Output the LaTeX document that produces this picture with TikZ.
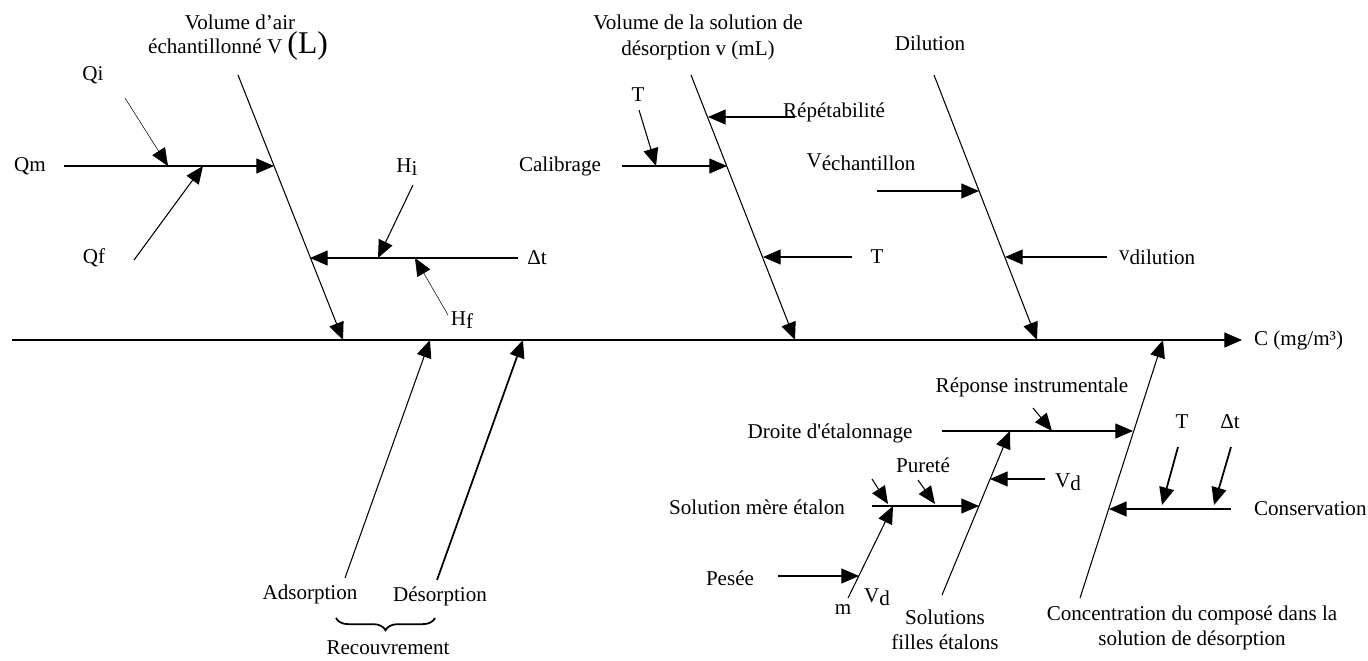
\documentclass[tikz,border=0pt]{standalone}
\usepackage{fontspec}
\setmainfont{Liberation Serif}
\usetikzlibrary{arrows.meta,decorations.pathreplacing}
\tikzset{
  % ---- texts -----------------------------------------------------
  lbl/.style    = {font=\fontsize{12}{14.5}\selectfont, inner sep=1pt,
                   align=center},
  % ---- bones and arrows ------------------------------------------
  tip/.style    = {-{Triangle[length=10pt, width=8.5pt]}},
  spine/.style  = {line width=.6pt, tip},
  bone/.style   = {line width=.6pt, tip},
  twig/.style   = {line width=.3pt, tip},
  heavy/.style  = {line width=1pt, tip},
  brk/.style    = {line width=1pt, decorate,
                   decoration={brace, amplitude=7pt, mirror}},
}
\newcommand{\lowr}[1]{\raisebox{-0.3ex}{#1}}

\begin{document}
\begin{tikzpicture}[x=0.02cm, y=-0.02cm]
  \useasboundingbox (0,0) rectangle (1368,660);
  \coordinate (sp0) at (12,340);
  \coordinate (sp1) at (1242,340);
  \coordinate (aTop) at (238,75);
  \coordinate (aBot) at (343,340);
  \coordinate (qmS) at (64,166);
  \coordinate (qmE) at (274,166);
  \coordinate (qiS) at (125,98);
  \coordinate (qiE) at (168,166);
  \coordinate (qfS) at (134,260);
  \coordinate (qfE) at (203,166);
  \coordinate (hS) at (518,258);
  \coordinate (hE) at (310,258);
  \coordinate (hiS) at (413,185);
  \coordinate (hiE) at (378,258);
  \coordinate (hfS) at (448,315);
  \coordinate (hfE) at (415,258);
  \coordinate (bTop) at (691,75);
  \coordinate (bBot) at (795,340);
  \coordinate (repS) at (795,117);
  \coordinate (repE) at (708,117);
  \coordinate (calS) at (622,166);
  \coordinate (calE) at (727,166);
  \coordinate (t1S) at (639,110);
  \coordinate (t1E) at (656,166);
  \coordinate (t2S) at (852,257);
  \coordinate (t2E) at (763,257);
  \coordinate (cTop) at (934,75);
  \coordinate (cBot) at (1037,340);
  \coordinate (vS) at (877,191);
  \coordinate (vE) at (979,191);
  \coordinate (vdS) at (1107,257);
  \coordinate (vdE) at (1005,257);
  \coordinate (adS) at (345,578);
  \coordinate (adE) at (430,340);
  \coordinate (deS) at (437,580);
  \coordinate (deE) at (523,340);
  \coordinate (brL) at (336,618);
  \coordinate (brR) at (435,618);
  \coordinate (dBot) at (1080,598);
  \coordinate (dTop) at (1163,340);
  \coordinate (drS) at (942,431);
  \coordinate (drE) at (1133,431);
  \coordinate (riS) at (1033,408);
  \coordinate (riE) at (1052,431);
  \coordinate (coS) at (1231,509);
  \coordinate (coE) at (1109,509);
  \coordinate (t3S) at (1178,447);
  \coordinate (t3E) at (1162,505);
  \coordinate (d3S) at (1231,447);
  \coordinate (d3E) at (1214,505);
  \coordinate (eBot) at (942,595);
  \coordinate (eTop) at (1010,431);
  \coordinate (vd1S) at (1045,479);
  \coordinate (vd1E) at (990,479);
  \coordinate (meS) at (872,506);
  \coordinate (meE) at (979,506);
  \coordinate (smS) at (872,479);
  \coordinate (smE) at (888,504);
  \coordinate (puS) at (918,480);
  \coordinate (puE) at (935,504);
  \coordinate (fBot) at (848,598);
  \coordinate (fTop) at (893,506);
  \coordinate (peS) at (778,576);
  \coordinate (peE) at (859,576);

  \draw[spine] (sp0) -- (sp1);
  \draw[bone] (aTop) -- (aBot);
  \draw[bone] (qmS) -- (qmE);
  \draw[twig] (qiS) -- (qiE);
  \draw[bone] (qfS) -- (qfE);
  \draw[bone] (hS) -- (hE);
  \draw[bone] (hiS) -- (hiE);
  \draw[twig] (hfS) -- (hfE);
  \draw[bone] (bTop) -- (bBot);
  \draw[bone] (repS) -- (repE);
  \draw[bone] (calS) -- (calE);
  \draw[bone] (t1S) -- (t1E);
  \draw[bone] (t2S) -- (t2E);
  \draw[bone] (cTop) -- (cBot);
  \draw[bone] (vS) -- (vE);
  \draw[bone] (vdS) -- (vdE);
  \draw[bone] (adS) -- (adE);
  \draw[heavy] (deS) -- (deE);
  \draw[brk] (brL) -- (brR);
  \draw[bone] (dBot) -- (dTop);
  \draw[bone] (drS) -- (drE);
  \draw[bone] (riS) -- (riE);
  \draw[heavy] (coS) -- (coE);
  \draw[heavy] (t3S) -- (t3E);
  \draw[heavy] (d3S) -- (d3E);
  \draw[bone] (eBot) -- (eTop);
  \draw[bone] (vd1S) -- (vd1E);
  \draw[bone] (meS) -- (meE);
  \draw[bone] (smS) -- (smE);
  \draw[bone] (puS) -- (puE);
  \draw[bone] (fBot) -- (fTop);
  \draw[bone] (peS) -- (peE);

  \node[lbl] (volA) at (240,22) {Volume d’air};
  \node[lbl] (volB) at (238,46) {échantillonné V {\fontsize{18}{20}\selectfont(L)}};
  \node[lbl] (qi) at (93,75) {Qi};
  \node[lbl] (qm) at (30,166) {Qm};
  \node[lbl] (qf) at (94,258) {Qf};
  \node[lbl] (hi) at (407,167) {H\lowr{i}};
  \node[lbl] (hf) at (462,320) {H\lowr{f}};
  \node[lbl] (dt1) at (537,258) {Δt};
  \node[lbl] (volC) at (698,22) {Volume de la solution de};
  \node[lbl] (volD) at (698,50) {désorption v (mL)};
  \node[lbl] (t1) at (638,95) {T};
  \node[lbl] (calib) at (560,166) {Calibrage};
  \node[lbl, anchor=base west] (repet) at (781,117) {Répétabilité};
  \node[lbl] (t2) at (877,257) {T};
  \node[lbl] (dil) at (930,43) {Dilution};
  \node[lbl] (vech) at (861,162) {\raisebox{0.3ex}{V}échantillon};
  \node[lbl, anchor=west] (vdil) at (1117,257) {\raisebox{0.4ex}{v}dilution};
  \node[lbl, anchor=west] (cunit) at (1252,340) {C (mg/m³)};
  \node[lbl] (ads) at (310,594) {Adsorption};
  \node[lbl] (des) at (440,596) {Désorption};
  \node[lbl] (recouv) at (388,648) {Recouvrement};
  \node[lbl] (repinst) at (1032,387) {Réponse instrumentale};
  \node[lbl] (droite) at (830,433) {Droite d\textquotesingle étalonnage};
  \node[lbl] (t3) at (1182,422) {T};
  \node[lbl] (dt3) at (1230,422) {Δt};
  \node[lbl, anchor=west] (conserv) at (1252,509) {Conservation};
  \node[lbl] (vd1) at (1068,482) {V\lowr{d}};
  \node[lbl] (mere) at (757,507) {Solution mère étalon};
  \node[lbl] (purete) at (923,465) {Pureté};
  \node[lbl] (pesee) at (730,578) {Pesée};
  \node[lbl] (m) at (843,610) {m};
  \node[lbl] (vd2) at (877,597) {V\lowr{d}};
  \node[lbl] (sol) at (945,630) {Solutions\\filles étalons};
  \node[lbl] (conc) at (1192,628) {Concentration du composé dans la\\solution de désorption};
\end{tikzpicture}
\end{document}
